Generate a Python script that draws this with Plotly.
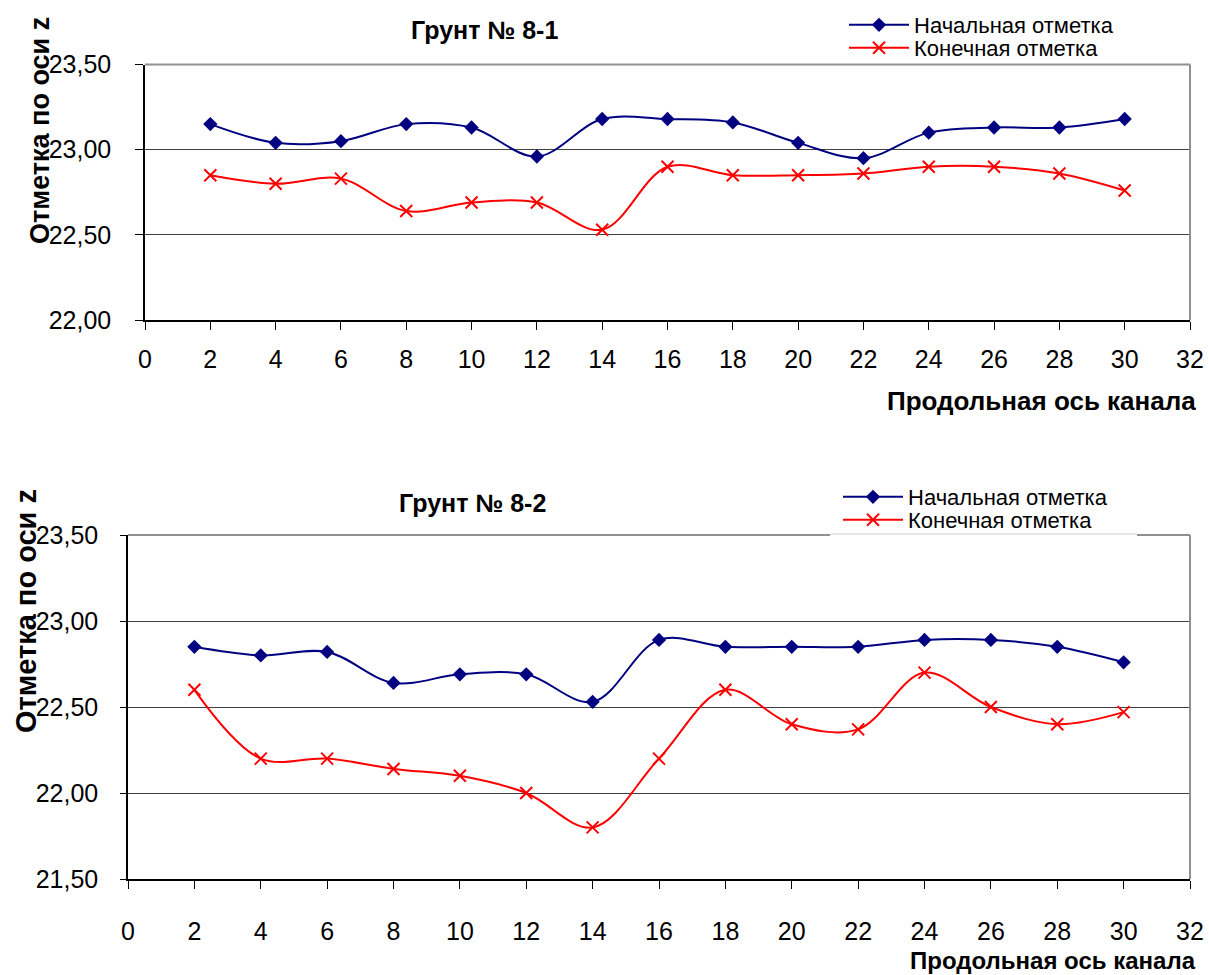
import plotly.graph_objects as go

# Chainage along the channel axis
stations = [2, 4, 6, 8, 10, 12, 14, 16, 18, 20, 22, 24, 26, 28, 30]

# Soil 8-1: initial and final surface elevations
soil1_initial = [23.15, 23.04, 23.05, 23.15, 23.13, 22.96, 23.18, 23.18,
                 23.16, 23.04, 22.95, 23.10, 23.13, 23.13, 23.18]
soil1_final = [22.85, 22.80, 22.83, 22.64, 22.69, 22.69, 22.53, 22.90,
               22.85, 22.85, 22.86, 22.90, 22.90, 22.86, 22.76]

# Soil 8-2: initial and final surface elevations
soil2_initial = [22.85, 22.80, 22.82, 22.64, 22.69, 22.69, 22.53, 22.89,
                 22.85, 22.85, 22.85, 22.89, 22.89, 22.85, 22.76]
soil2_final = [22.60, 22.20, 22.20, 22.14, 22.10, 22.00, 21.80, 22.20,
               22.60, 22.40, 22.37, 22.70, 22.50, 22.40, 22.47]

series_names = ["Начальная отметка", "Конечная отметка"]
panel_titles = ["Грунт № 8-1", "Грунт № 8-2"]
x_title = "Продольная ось канала"
y_title = "Отметка по оси z"
x_ticks = list(range(0, 33, 2))

W, H = 1209, 975
FONT = "Liberation Sans, Arial, sans-serif"
NAVY = "#000080"
RED = "#FF0000"


def px(x):
    return x / W


def py(y):
    return 1 - y / H


fig = go.Figure()

panels = [
    ("x", "y", ("legend", "legend2"), soil1_initial, soil1_final),
    ("x2", "y2", ("legend3", "legend4"), soil2_initial, soil2_final),
]
for xa, ya, (lg_a, lg_b), init_vals, final_vals in panels:
    fig.add_trace(go.Scatter(
        x=stations, y=init_vals, name=series_names[0], xaxis=xa, yaxis=ya,
        legend=lg_a, mode="lines+markers",
        line=dict(color=NAVY, width=2, shape="spline", smoothing=1.0),
        marker=dict(symbol="diamond", size=11, color=NAVY),
    ))
    fig.add_trace(go.Scatter(
        x=stations, y=final_vals, name=series_names[1], xaxis=xa, yaxis=ya,
        legend=lg_b, mode="lines+markers",
        line=dict(color=RED, width=2, shape="spline", smoothing=1.0),
        marker=dict(symbol="x-thin", size=12, color=RED,
                    line=dict(color=RED, width=2)),
    ))

tick_font = dict(family=FONT, size=25, color="black")
grid_color = "#404040"

common_x = dict(range=[0, 32], tickvals=x_ticks, ticks="outside", ticklen=8,
                tickcolor="black", tickwidth=1, showline=True,
                linecolor="black", linewidth=1.5, showgrid=False,
                zeroline=False, tickfont=tick_font, fixedrange=True)
common_y = dict(dtick=0.5, tickformat=".2f", ticks="outside",
                tickcolor="black", tickwidth=1, showline=True,
                linecolor="black", linewidth=1.5, showgrid=True,
                gridcolor=grid_color, gridwidth=1, zeroline=False,
                tickfont=tick_font, fixedrange=True)


def legend_at(x_left, y_mid):
    return dict(x=px(x_left), y=py(y_mid), xanchor="left", yanchor="middle",
                bgcolor="rgba(0,0,0,0)", borderwidth=0, itemwidth=60,
                font=dict(family=FONT, size=22, color="black"))


fig.update_layout(
    width=W, height=H,
    margin=dict(l=0, r=0, t=0, b=0, autoexpand=False),
    paper_bgcolor="white", plot_bgcolor="white",
    separators=", ",
    font=dict(family=FONT, color="black"),
    xaxis=dict(common_x, domain=[px(145), px(1190)], anchor="y",
               ticklabelstandoff=8),
    yaxis=dict(common_y, domain=[py(320), py(64.5)], anchor="x",
               range=[22.0, 23.5], tickvals=[22.0, 22.5, 23.0, 23.5],
               ticklen=8, ticklabelstandoff=19),
    xaxis2=dict(common_x, domain=[px(128), px(1190)], anchor="y2",
                ticklabelstandoff=21),
    yaxis2=dict(common_y, domain=[py(879), py(535)], anchor="x2",
                range=[21.5, 23.5], tickvals=[21.5, 22.0, 22.5, 23.0, 23.5],
                ticklen=6, ticklabelstandoff=17),
    legend=legend_at(844, 25),
    legend2=legend_at(844, 48),
    legend3=legend_at(838, 497),
    legend4=legend_at(838, 520),
    showlegend=True,
)

# Grey frame on the top and right of each plot area
for xr, yr in (("x domain", "y domain"), ("x2 domain", "y2 domain")):
    fig.add_shape(type="line", xref=xr, yref=yr, x0=0, x1=1, y0=1, y1=1,
                  line=dict(color="#909090", width=2), layer="above")
    fig.add_shape(type="line", xref=xr, yref=yr, x0=1, x1=1, y0=0, y1=1,
                  line=dict(color="#909090", width=2), layer="above")

# The lower legend box sits on the frame of the second plot
fig.add_shape(type="line", xref="paper", yref="paper",
              x0=px(830), x1=px(1137), y0=py(535), y1=py(535),
              line=dict(color="white", width=3), layer="above")
fig.add_shape(type="line", xref="paper", yref="paper",
              x0=px(830), x1=px(1137), y0=py(534), y1=py(534),
              line=dict(color="#d0d0d0", width=1), layer="above")

bold = dict(family=FONT, color="black")
annotations = [
    dict(text=f"<b>{panel_titles[0]}</b>", x=px(484), y=py(30),
         font=dict(bold, size=25), xanchor="center", yanchor="middle"),
    dict(text=f"<b>{panel_titles[1]}</b>", x=px(472), y=py(503),
         font=dict(bold, size=25), xanchor="center", yanchor="middle"),
    dict(text=f"<b>{y_title}</b>", x=px(40), y=py(131), textangle=-90,
         font=dict(bold, size=27), xanchor="center", yanchor="middle"),
    dict(text=f"<b>{y_title}</b>", x=px(26), y=py(611), textangle=-90,
         font=dict(bold, size=29), xanchor="center", yanchor="middle"),
    dict(text=f"<b>{x_title}</b>", x=px(1198), y=py(401),
         font=dict(bold, size=26), xanchor="right", yanchor="middle"),
    dict(text=f"<b>{x_title}</b>", x=px(1198), y=py(960),
         font=dict(bold, size=24), xanchor="right", yanchor="middle"),
]
for a in annotations:
    fig.add_annotation(xref="paper", yref="paper", showarrow=False, **a)

fig.write_html("out.html")
